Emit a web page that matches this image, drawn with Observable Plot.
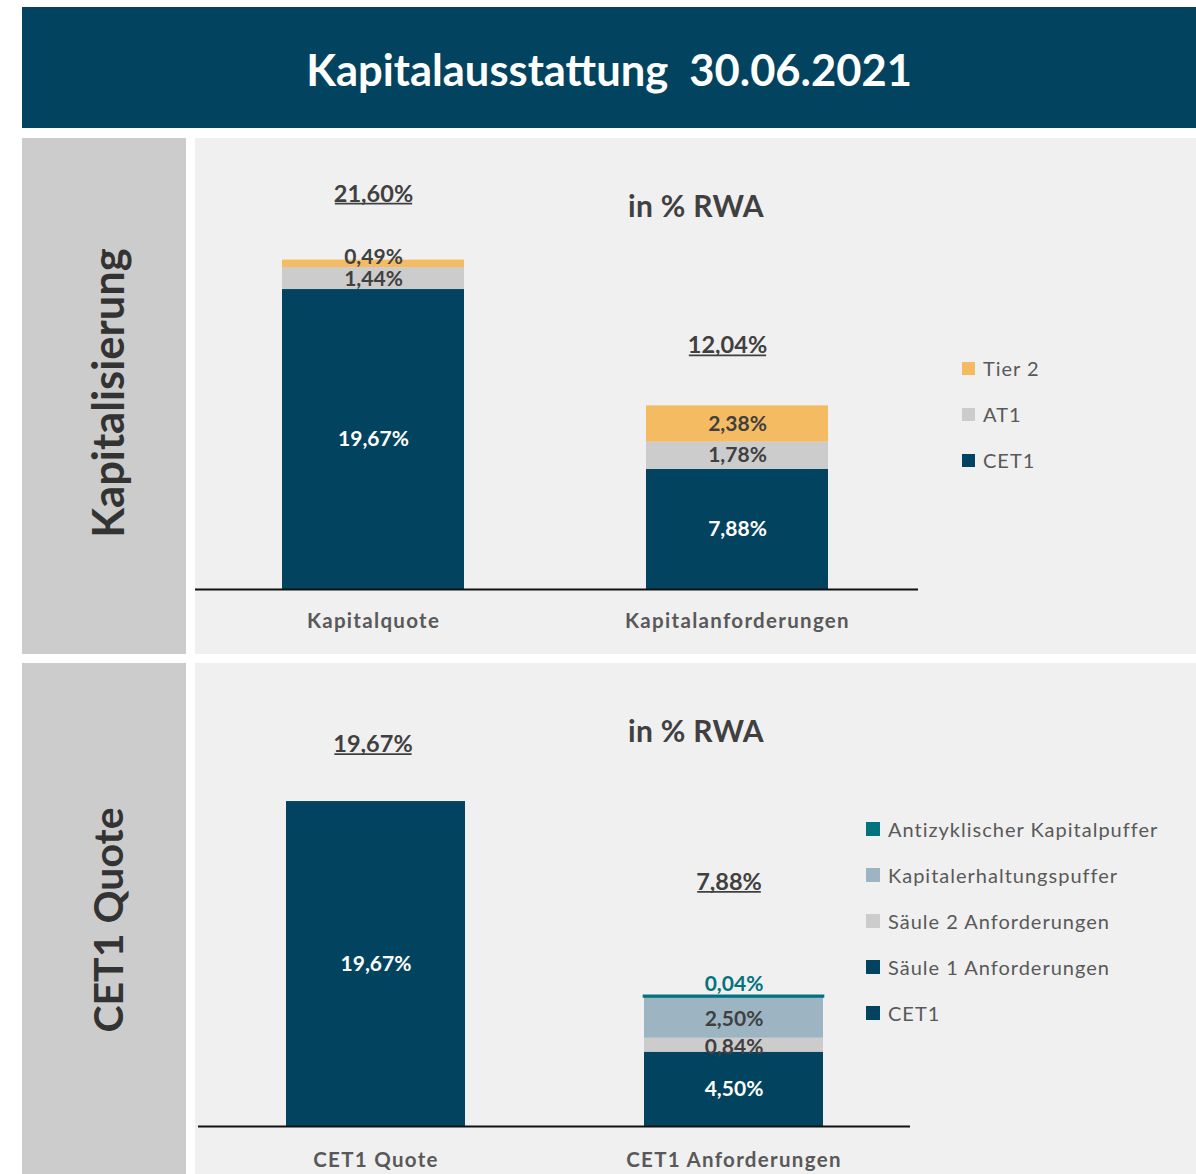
<!DOCTYPE html>
<html>
<head>
<meta charset="utf-8">
<script src="https://cdn.jsdelivr.net/npm/d3@7"></script>
<script src="https://cdn.jsdelivr.net/npm/@observablehq/plot@0.6"></script>
<style>
  body { margin:0; background:#fff; font-family: Lato, "Open Sans", sans-serif; }
  #page { position:relative; width:1196px; height:1174px; overflow:hidden; background:#fff; }
  .abs { position:absolute; }
  #banner { left:22px; top:7px; width:1174px; height:121px; background:#02445f; color:#fff;
            display:flex; align-items:center; justify-content:center; font-weight:700; font-size:43.5px; padding-top:3px; box-sizing:border-box; }
  .side { left:22px; width:164px; background:#cccccc; }
  .main { left:195px; width:1001px; background:#f0f0f0; }
  .vlabel { font-weight:700; color:#333; white-space:nowrap;
            transform: translate(-50%, -50%) rotate(-90deg); }
  .rwa { font-weight:700; font-size:30px; letter-spacing:0.3px; color:#404040; transform: translate(-50%, -50%); white-space:nowrap; }
  .leg { font-size:20px; letter-spacing:1px; color:#595959; white-space:nowrap; display:flex; align-items:center; transform: translateY(-50%); }
  .leg span.sw { display:inline-block; margin-right:8px; }
</style>
</head>
<body>
<div id="page">
  <div id="banner" class="abs">Kapitalausstattung&nbsp;&nbsp;30.06.2021</div>
  <div class="abs side" style="top:138px;height:516px;"></div>
  <div class="abs main" id="panel1" style="top:138px;height:516px;"></div>
  <div class="abs side" style="top:663px;height:511px;"></div>
  <div class="abs main" id="panel2" style="top:663px;height:511px;"></div>
  <div class="abs vlabel" style="left:107px;top:393px;font-size:43.5px;">Kapitalisierung</div>
  <div class="abs vlabel" style="left:107px;top:920px;font-size:41px;">CET1 Quote</div>
  <div class="abs rwa" style="left:696px;top:205px;">in % RWA</div>
  <div class="abs rwa" style="left:696px;top:730px;">in % RWA</div>
  <div id="legend1"></div>
  <div id="legend2"></div>
</div>
<script>
// ---------- data ----------
const topCategories = ["Kapitalquote", "Kapitalanforderungen"];
const topSeries = ["CET1", "AT1", "Tier 2"];
const topCET1 = [19.67, 7.88];
const topAT1 = [1.44, 1.78];
const topTier2 = [0.49, 2.38];
const topTotals = [21.60, 12.04];

const bottomCategories = ["CET1 Quote", "CET1 Anforderungen"];
const bottomSeries = ["CET1", "Säule 1 Anforderungen", "Säule 2 Anforderungen", "Kapitalerhaltungspuffer", "Antizyklischer Kapitalpuffer"];
const bottomCET1 = [19.67, null];
const bottomSaeule1 = [null, 4.50];
const bottomSaeule2 = [null, 0.84];
const bottomKEP = [null, 2.50];
const bottomAntizyklisch = [null, 0.04];
const bottomTotals = [19.67, 7.88];

// ---------- styles ----------
const NAVY = "#02445f";
const colors = {
  "CET1": NAVY, "AT1": "#cccccc", "Tier 2": "#f4bb63",
  "Säule 1 Anforderungen": NAVY, "Säule 2 Anforderungen": "#cccccc",
  "Kapitalerhaltungspuffer": "#9db5c3", "Antizyklischer Kapitalpuffer": "#02727f"
};
const labelColors = {
  "CET1": "#ffffff", "AT1": "#404040", "Tier 2": "#404040",
  "Säule 1 Anforderungen": "#ffffff", "Säule 2 Anforderungen": "#404040",
  "Kapitalerhaltungspuffer": "#404040", "Antizyklischer Kapitalpuffer": "#02727f"
};
const fmt = v => v.toFixed(2).replace(".", ",") + "%";
const FONT = "Lato, 'Open Sans', sans-serif";
const TOTAL_SIZE = 23.5, CAT_SIZE = 20.5;

function stackRows(categories, series, values) {
  const rows = [];
  categories.forEach((c, i) => {
    let base = 0;
    series.forEach((s, j) => {
      const v = values[j][i];
      if (v == null) return;
      rows.push({category: c, series: s, value: v, y1: base, y2: base + v, mid: base + v / 2, text: fmt(v)});
      base += v;
    });
  });
  return rows;
}

function chart({categories, rows, totals, width, height, baseline, pxPerUnit, xRange, marginLeft, marginRight, segOffsets, totalOffsets, tickPadding}) {
  const totalRows = categories.map((c, i) => ({category: c, value: totals[i], text: fmt(totals[i])}));
  const marks = [
    Plot.barY(rows, {x: "category", y1: "y1", y2: "y2", fill: d => colors[d.series],
      stroke: d => d.series === "Antizyklischer Kapitalpuffer" ? colors[d.series] : "none", strokeWidth: 2.6}),
    Plot.ruleY([0], {stroke: "#111", strokeWidth: 2}),
    Plot.axisX({tickSize: 0, tickPadding, fontSize: CAT_SIZE, fontWeight: "bold", fill: "#595959", label: null, fontFamily: FONT})
  ];
  rows.forEach(r => {
    const o = segOffsets[r.category + "|" + r.series] || [0, 0];
    marks.push(Plot.text([r], {x: "category", y: "mid", text: "text", fill: labelColors[r.series],
      fontSize: 21, fontWeight: "bold", fontFamily: FONT, dx: o[0], dy: o[1]}));
  });
  totalRows.forEach((t, i) => {
    const o = totalOffsets[i];
    marks.push(Plot.text([t], {x: "category", y: "value", text: "text", fill: "#404040",
      fontSize: TOTAL_SIZE, fontWeight: "bold", fontFamily: FONT, dx: o[0], dy: o[1]}));
  });
  const svg = Plot.plot({
    width, height, marginLeft, marginRight, marginTop: 0, marginBottom: height - baseline,
    style: {background: "transparent", overflow: "visible", fontFamily: FONT},
    x: {domain: categories, range: xRange, paddingInner: 0.5, paddingOuter: 0, axis: null},
    y: {domain: [0, baseline / pxPerUnit], range: [baseline, 0], axis: null},
    marks
  });
  return svg;
}

// underline totals & letter-space category labels (after the svg is in the page)
function finish(svg) {
  const s = d3.select(svg);
  s.selectAll("g").filter(function() { return +this.getAttribute("font-size") === CAT_SIZE; })
    .selectAll("text").style("letter-spacing", "1.3px");
  s.selectAll("g").filter(function() { return +this.getAttribute("font-size") === TOTAL_SIZE; })
    .selectAll("text").each(function() {
      const b = this.getBBox();
      const t = this.getAttribute("transform");
      d3.select(this.parentNode).append("line")
        .attr("transform", t)
        .attr("x1", b.x + 1).attr("x2", b.x + b.width - 1)
        .attr("y1", b.y + b.height - 3).attr("y2", b.y + b.height - 3)
        .attr("stroke", "#404040").attr("stroke-width", 1.8);
    });
}

const topRows = stackRows(topCategories, topSeries, [topCET1, topAT1, topTier2]);
const bottomRows = stackRows(bottomCategories, bottomSeries, [bottomCET1, bottomSaeule1, bottomSaeule2, bottomKEP, bottomAntizyklisch]);

const svg1 = chart({
  categories: topCategories, rows: topRows, totals: topTotals,
  width: 1001, height: 516, baseline: 451, pxPerUnit: 15.25,
  xRange: [87, 633], marginLeft: 0, marginRight: 278, tickPadding: 24,
  segOffsets: {"Kapitalquote|Tier 2": [0, -7], "Kapitalquote|AT1": [0, 1]},
  totalOffsets: [[0, -66], [-10, -60]]
});
document.getElementById("panel1").appendChild(svg1);
finish(svg1);

const svg2 = chart({
  categories: bottomCategories, rows: bottomRows, totals: bottomTotals,
  width: 1001, height: 511, baseline: 463, pxPerUnit: 16.52,
  xRange: [91, 628], marginLeft: 3, marginRight: 286, tickPadding: 26,
  segOffsets: {"CET1 Anforderungen|Antizyklischer Kapitalpuffer": [0, -12], "CET1 Anforderungen|Kapitalerhaltungspuffer": [0, 2], "CET1 Anforderungen|Säule 2 Anforderungen": [0, 2]},
  totalOffsets: [[-3, -57], [-5, -114]]
});
document.getElementById("panel2").appendChild(svg2);
finish(svg2);

// ---------- legends ----------
function legend(el, items, left, top, gap, sw) {
  items.forEach((s, i) => {
    const d = document.createElement("div");
    d.className = "abs leg";
    d.style.left = left + "px";
    d.style.top = (top + i * gap) + "px";
    d.innerHTML = `<span class="sw" style="width:${sw}px;height:${sw}px;background:${colors[s]}"></span>${s}`;
    el.appendChild(d);
  });
}
legend(document.getElementById("legend1"), topSeries.slice().reverse(), 962, 368, 46, 13);
legend(document.getElementById("legend2"), bottomSeries.slice().reverse(), 866, 829, 46, 14);
</script>
</body>
</html>
